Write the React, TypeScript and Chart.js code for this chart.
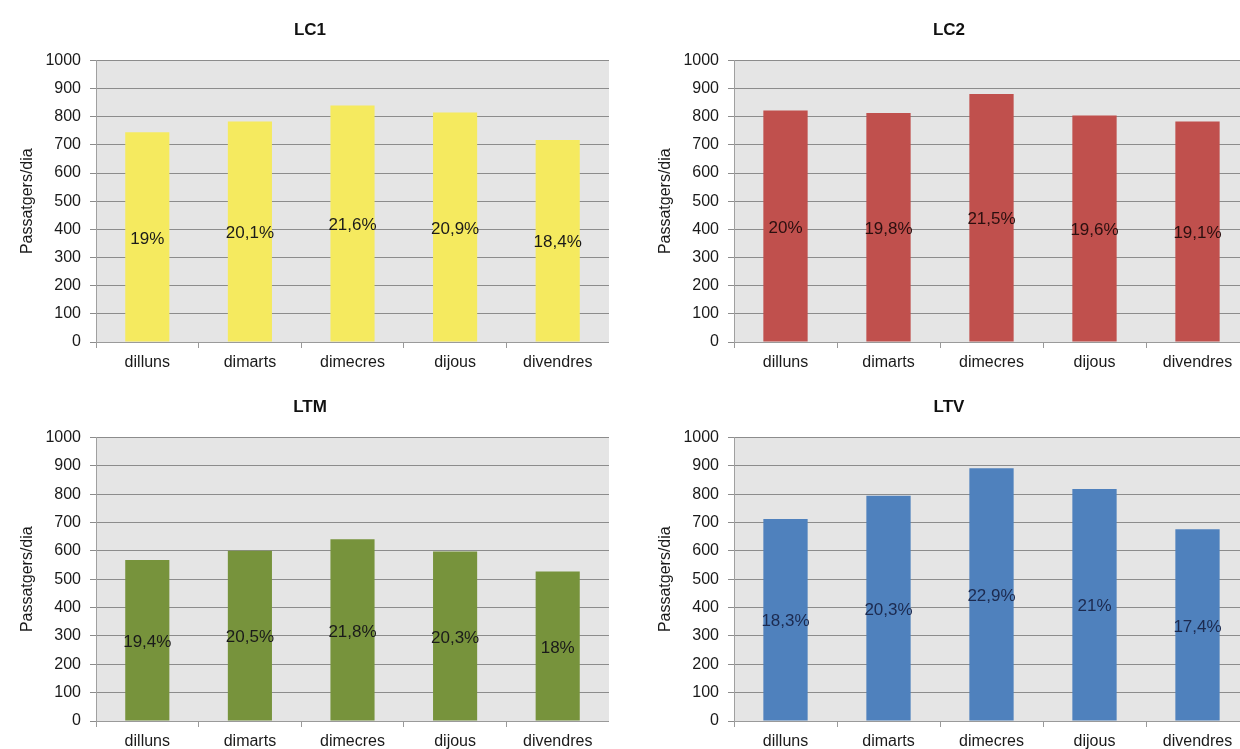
import React, { useEffect, useRef } from 'react';
import { Chart, registerables } from 'chart.js';

Chart.register(...registerables);

const FONT = '"Liberation Sans", Arial, Helvetica, sans-serif';

const categories = ['dilluns', 'dimarts', 'dimecres', 'dijous', 'divendres'];
const yTickValues = [0, 100, 200, 300, 400, 500, 600, 700, 800, 900, 1000];

const lc1Values = [745, 783, 840, 815, 717];
const lc1Labels = ['19%', '20,1%', '21,6%', '20,9%', '18,4%'];

const lc2Values = [822, 813, 881, 804, 783];
const lc2Labels = ['20%', '19,8%', '21,5%', '19,6%', '19,1%'];

const ltmValues = [568, 600, 641, 598, 527];
const ltmLabels = ['19,4%', '20,5%', '21,8%', '20,3%', '18%'];

const ltvValues = [712, 794, 891, 818, 676];
const ltvLabels = ['18,3%', '20,3%', '22,9%', '21%', '17,4%'];

const plotBg = {
  id: 'plotBg',
  beforeDraw(chart: any) {
    const { ctx, chartArea } = chart;
    if (!chartArea) return;
    ctx.save();
    ctx.fillStyle = '#e5e5e5';
    ctx.fillRect(chartArea.left, chartArea.top, chartArea.right - chartArea.left, chartArea.bottom - chartArea.top);
    ctx.restore();
  },
};

const barLabels = {
  id: 'barLabels',
  afterDatasetsDraw(chart: any, _args: any, opts: any) {
    const { ctx } = chart;
    const meta = chart.getDatasetMeta(0);
    const labels: string[] = opts.labels || [];
    ctx.save();
    ctx.font = `17px ${FONT}`;
    ctx.fillStyle = opts.color || '#1a1a1a';
    ctx.textAlign = 'center';
    ctx.textBaseline = 'middle';
    meta.data.forEach((bar: any, i: number) => {
      const y = (bar.y + bar.base) / 2 + 2;
      ctx.fillText(labels[i] ?? '', bar.x, y);
    });
    ctx.restore();
  },
};

type Props = {
  title: string;
  values: number[];
  labels: string[];
  color: string;
  labelColor: string;
  left: number;
  top: number;
  width: number;
  height: number;
  titlePad: { top: number; bottom: number };
};

function BarPanel(p: Props) {
  const ref = useRef<HTMLCanvasElement | null>(null);
  useEffect(() => {
    if (!ref.current) return;
    const chart = new Chart(ref.current, {
      type: 'bar',
      data: {
        labels: categories,
        datasets: [
          {
            data: p.values,
            backgroundColor: p.color,
            borderWidth: 0,
            categoryPercentage: 1,
            barPercentage: 0.43,
          },
        ],
      },
      options: {
        responsive: false,
        animation: false,
        layout: { padding: 0 },
        plugins: {
          legend: { display: false },
          tooltip: { enabled: false },
          title: {
            display: true,
            text: p.title,
            color: '#111',
            font: { family: FONT, size: 17, weight: 'bold', lineHeight: 1.2 },
            padding: p.titlePad,
          },
          barLabels: { labels: p.labels, color: p.labelColor },
        } as any,
        scales: {
          x: {
            grid: {
              drawOnChartArea: false,
              drawTicks: true,
              tickLength: 6,
              offset: true,
              color: '#9a9a9a',
            },
            border: { display: true, color: '#9a9a9a' },
            ticks: {
              color: '#1a1a1a',
              font: { family: FONT, size: 16 },
              padding: 5,
              maxRotation: 0,
              autoSkip: false,
            },
            afterFit: (s: any) => {
              s.height = 32;
            },
          },
          y: {
            min: 0,
            max: 1000,
            afterBuildTicks: (s: any) => {
              s.ticks = yTickValues.map((v) => ({ value: v }));
            },
            grid: { color: '#8c8c8c', tickLength: 6, drawTicks: true },
            border: { display: true, color: '#a0a0a0' },
            ticks: {
              color: '#1a1a1a',
              font: { family: FONT, size: 16 },
              padding: 9,
              callback: (v: any) => String(v),
            },
            title: {
              display: true,
              text: 'Passatgers/dia',
              color: '#1a1a1a',
              font: { family: FONT, size: 16 },
              padding: { top: 7, bottom: 0 },
            },
            afterFit: (s: any) => {
              s.width = 85;
            },
          },
        },
      },
      plugins: [plotBg, barLabels],
    } as any);
    return () => chart.destroy();
  }, []);
  return (
    <div style={{ position: 'absolute', left: p.left, top: p.top, width: p.width, height: p.height }}>
      <canvas ref={ref} width={p.width} height={p.height} style={{ display: 'block', width: p.width, height: p.height }} />
    </div>
  );
}

export default function App() {
  return (
    <div
      style={{
        position: 'fixed',
        left: 0,
        top: 0,
        width: 1240,
        height: 749,
        overflow: 'hidden',
        background: '#ffffff',
      }}
    >
      <BarPanel title="LC1" values={lc1Values} labels={lc1Labels} color="#f5ea5f" labelColor="#1a1a1a"
        left={11} top={0} width={598} height={374} titlePad={{ top: 20, bottom: 20 }} />
      <BarPanel title="LC2" values={lc2Values} labels={lc2Labels} color="#c0504d" labelColor="#2a0f0f"
        left={649} top={0} width={600} height={374} titlePad={{ top: 20, bottom: 20 }} />
      <BarPanel title="LTM" values={ltmValues} labels={ltmLabels} color="#77933c" labelColor="#1a1a1a"
        left={11} top={375} width={598} height={378} titlePad={{ top: 22, bottom: 20 }} />
      <BarPanel title="LTV" values={ltvValues} labels={ltvLabels} color="#4f81bd" labelColor="#1c2a4f"
        left={649} top={375} width={600} height={378} titlePad={{ top: 22, bottom: 20 }} />
    </div>
  );
}
